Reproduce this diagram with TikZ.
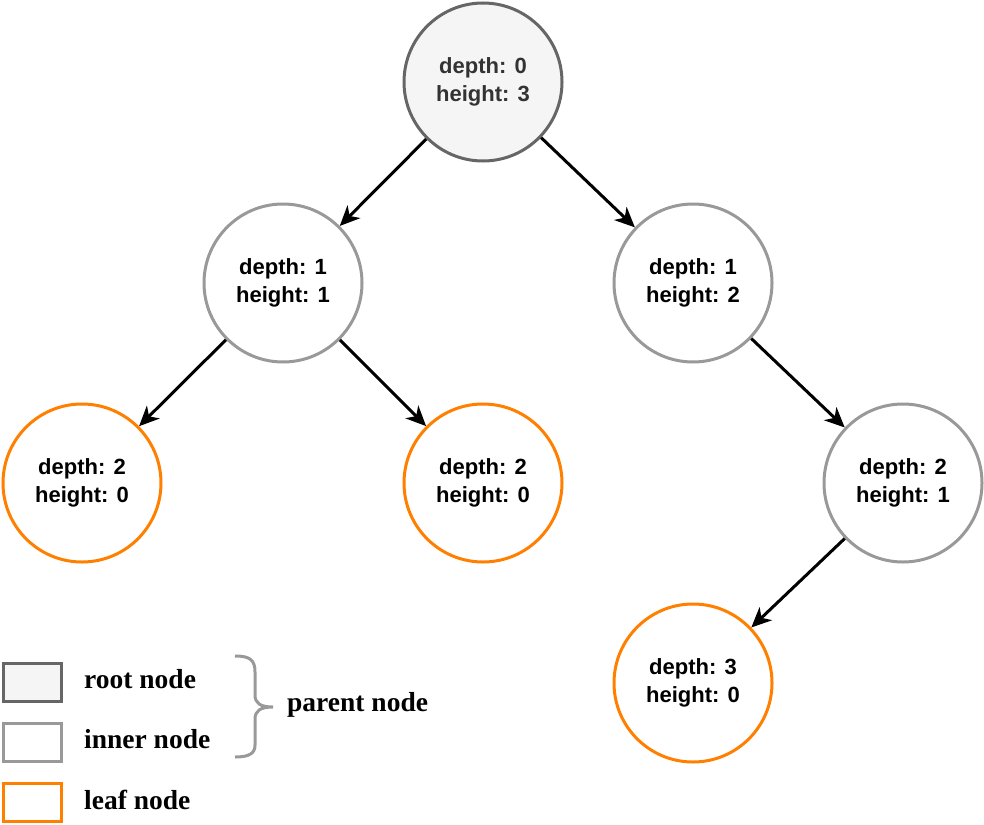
\documentclass[tikz,border=0pt]{standalone}
\usepackage{fontspec}
\setmainfont{Liberation Serif}
\newfontfamily\nodefont{Liberation Sans}
\usetikzlibrary{arrows.meta}
\definecolor{rootfill}{HTML}{F5F5F5}
\definecolor{rootline}{HTML}{666666}
\definecolor{innerline}{HTML}{999999}
\definecolor{leafline}{HTML}{FF8000}
\definecolor{roottext}{HTML}{333333}
\tikzset{
  tnode/.style={circle, line width=3pt, minimum size=158pt, inner sep=0pt, align=center,
    font=\nodefont\bfseries\fontsize{22}{28}\selectfont},
  rootnode/.style={tnode, draw=rootline, fill=rootfill, text=roottext},
  innernode/.style={tnode, draw=innerline, fill=white},
  leafnode/.style={tnode, draw=leafline, fill=white},
  arr/.style={line width=3pt, -{Stealth[length=20pt, width=18pt, inset=6pt]}},
  legbox/.style={rectangle, line width=3pt, minimum width=58pt, minimum height=38pt, inner sep=0pt},
  legtext/.style={anchor=west, inner sep=0pt, font=\bfseries\fontsize{27.5}{32}\selectfont},
}
\begin{document}
\begin{tikzpicture}[x=1pt, y=-1pt]
\useasboundingbox (0,0) rectangle (984,824);
\node[rootnode] (n0) at (483,82) {depth: 0\\height: 3};
\node[innernode] (n1) at (283,283) {depth: 1\\height: 1};
\node[innernode] (n2) at (693,283) {depth: 1\\height: 2};
\node[leafnode] (n3) at (82,483) {depth: 2\\height: 0};
\node[leafnode] (n4) at (483,483) {depth: 2\\height: 0};
\node[innernode] (n5) at (903,483) {depth: 2\\height: 1};
\node[leafnode] (n6) at (693,683) {depth: 3\\height: 0};
\draw[arr] (n0) -- (n1);
\draw[arr] (n0) -- (n2);
\draw[arr] (n1) -- (n3);
\draw[arr] (n1) -- (n4);
\draw[arr] (n2) -- (n5);
\draw[arr] (n5) -- (n6);
% legend
\node[legbox, draw=rootline, fill=rootfill] (lr) at (32.5,682.5) {};
\node[legbox, draw=innerline, fill=white] (li) at (32.5,742.5) {};
\node[legbox, draw=leafline, fill=white] (ll) at (32.5,802.5) {};
\node[legtext] (tr) at (84,679) {root node};
\node[legtext] (ti) at (84,739) {inner node};
\node[legtext] (tl) at (84,800) {leaf node};
\node[legtext] (tp) at (287,705) {parent node};
\draw[innerline, line width=3pt]
  (235,656) .. controls (250,656) and (255,660) .. (255,672) -- (255,695)
  .. controls (255,703) and (260,707) .. (273,707)
  .. controls (260,707) and (255,711) .. (255,719) -- (255,745)
  .. controls (255,753) and (250,757) .. (235,757);
\end{tikzpicture}
\end{document}
